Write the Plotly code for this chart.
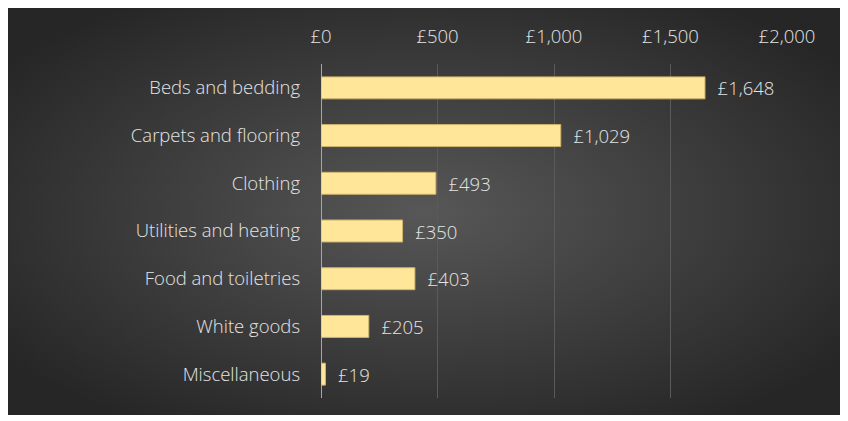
import base64
import plotly.graph_objects as go

categories = ["Beds and bedding", "Carpets and flooring", "Clothing", "Utilities and heating",
              "Food and toiletries", "White goods", "Miscellaneous"]
values = [1648, 1029, 493, 350, 403, 205, 19]
tick_vals = [0, 500, 1000, 1500, 2000]
tick_text = ["£0", "£500", "£1,000", "£1,500", "£2,000"]

# page has an 8px body margin; figure sits at (8, 8)
W, H = 832, 407
L, R, T, B = 313, 779, 56, 390
pw, ph = R - L, B - T

svg = ('<svg xmlns="http://www.w3.org/2000/svg" width="832" height="407" viewBox="0 0 832 407" preserveAspectRatio="none">'
       '<defs><radialGradient id="g" cx="50%" cy="50%" r="62%">'
       '<stop offset="0" stop-color="#575757"/><stop offset="1" stop-color="#262626"/>'
       '</radialGradient></defs><rect width="832" height="407" fill="url(#g)"/></svg>')
src = "data:image/svg+xml;base64," + base64.b64encode(svg.encode()).decode()

font = "'Open Sans', Lato, sans-serif"
fsize = 18.5
fcol = "#E4E4E4"
fig = go.Figure(go.Bar(
    x=values, y=categories, orientation="h",
    marker=dict(color="#FFE699", line=dict(color="#CDB46E", width=1)),
    width=0.46,
    texttemplate="  £%{x:,}", textposition="outside", constraintext="none",
    textfont=dict(color=fcol, size=fsize, family=font, weight=300),
    cliponaxis=False,
))

fig.add_layout_image(dict(
    source=src, xref="paper", yref="paper",
    x=-L / pw, y=1 + T / ph,
    sizex=W / pw, sizey=H / ph,
    sizing="stretch", layer="below", xanchor="left", yanchor="top",
))

fig.update_layout(
    width=W, height=H,
    margin=dict(l=L, r=W - R, t=T, b=H - B, pad=0),
    paper_bgcolor="#262626", plot_bgcolor="rgba(0,0,0,0)",
    showlegend=False,
    font=dict(family=font, size=fsize, color=fcol, weight=300),
    xaxis=dict(side="top", range=[0, 2000], tickvals=tick_vals, ticktext=tick_text,
               showgrid=True, gridcolor="#5A5A5A", gridwidth=1,
               zeroline=False, showline=False, ticks="", ticklabelstandoff=16,
               tickfont=dict(size=fsize, color=fcol, family=font, weight=300)),
    yaxis=dict(autorange="reversed", showgrid=False, zeroline=False, showline=False,
               ticks="", ticklabelstandoff=20,
               tickfont=dict(size=fsize, color=fcol, family=font, weight=300)),
    shapes=[dict(type="line", xref="x", yref="paper", x0=0, x1=0, y0=0, y1=1,
                 line=dict(color="#A6A6A6", width=2), layer="below")],
    bargap=0.54,
)

fig.write_html("out.html")
